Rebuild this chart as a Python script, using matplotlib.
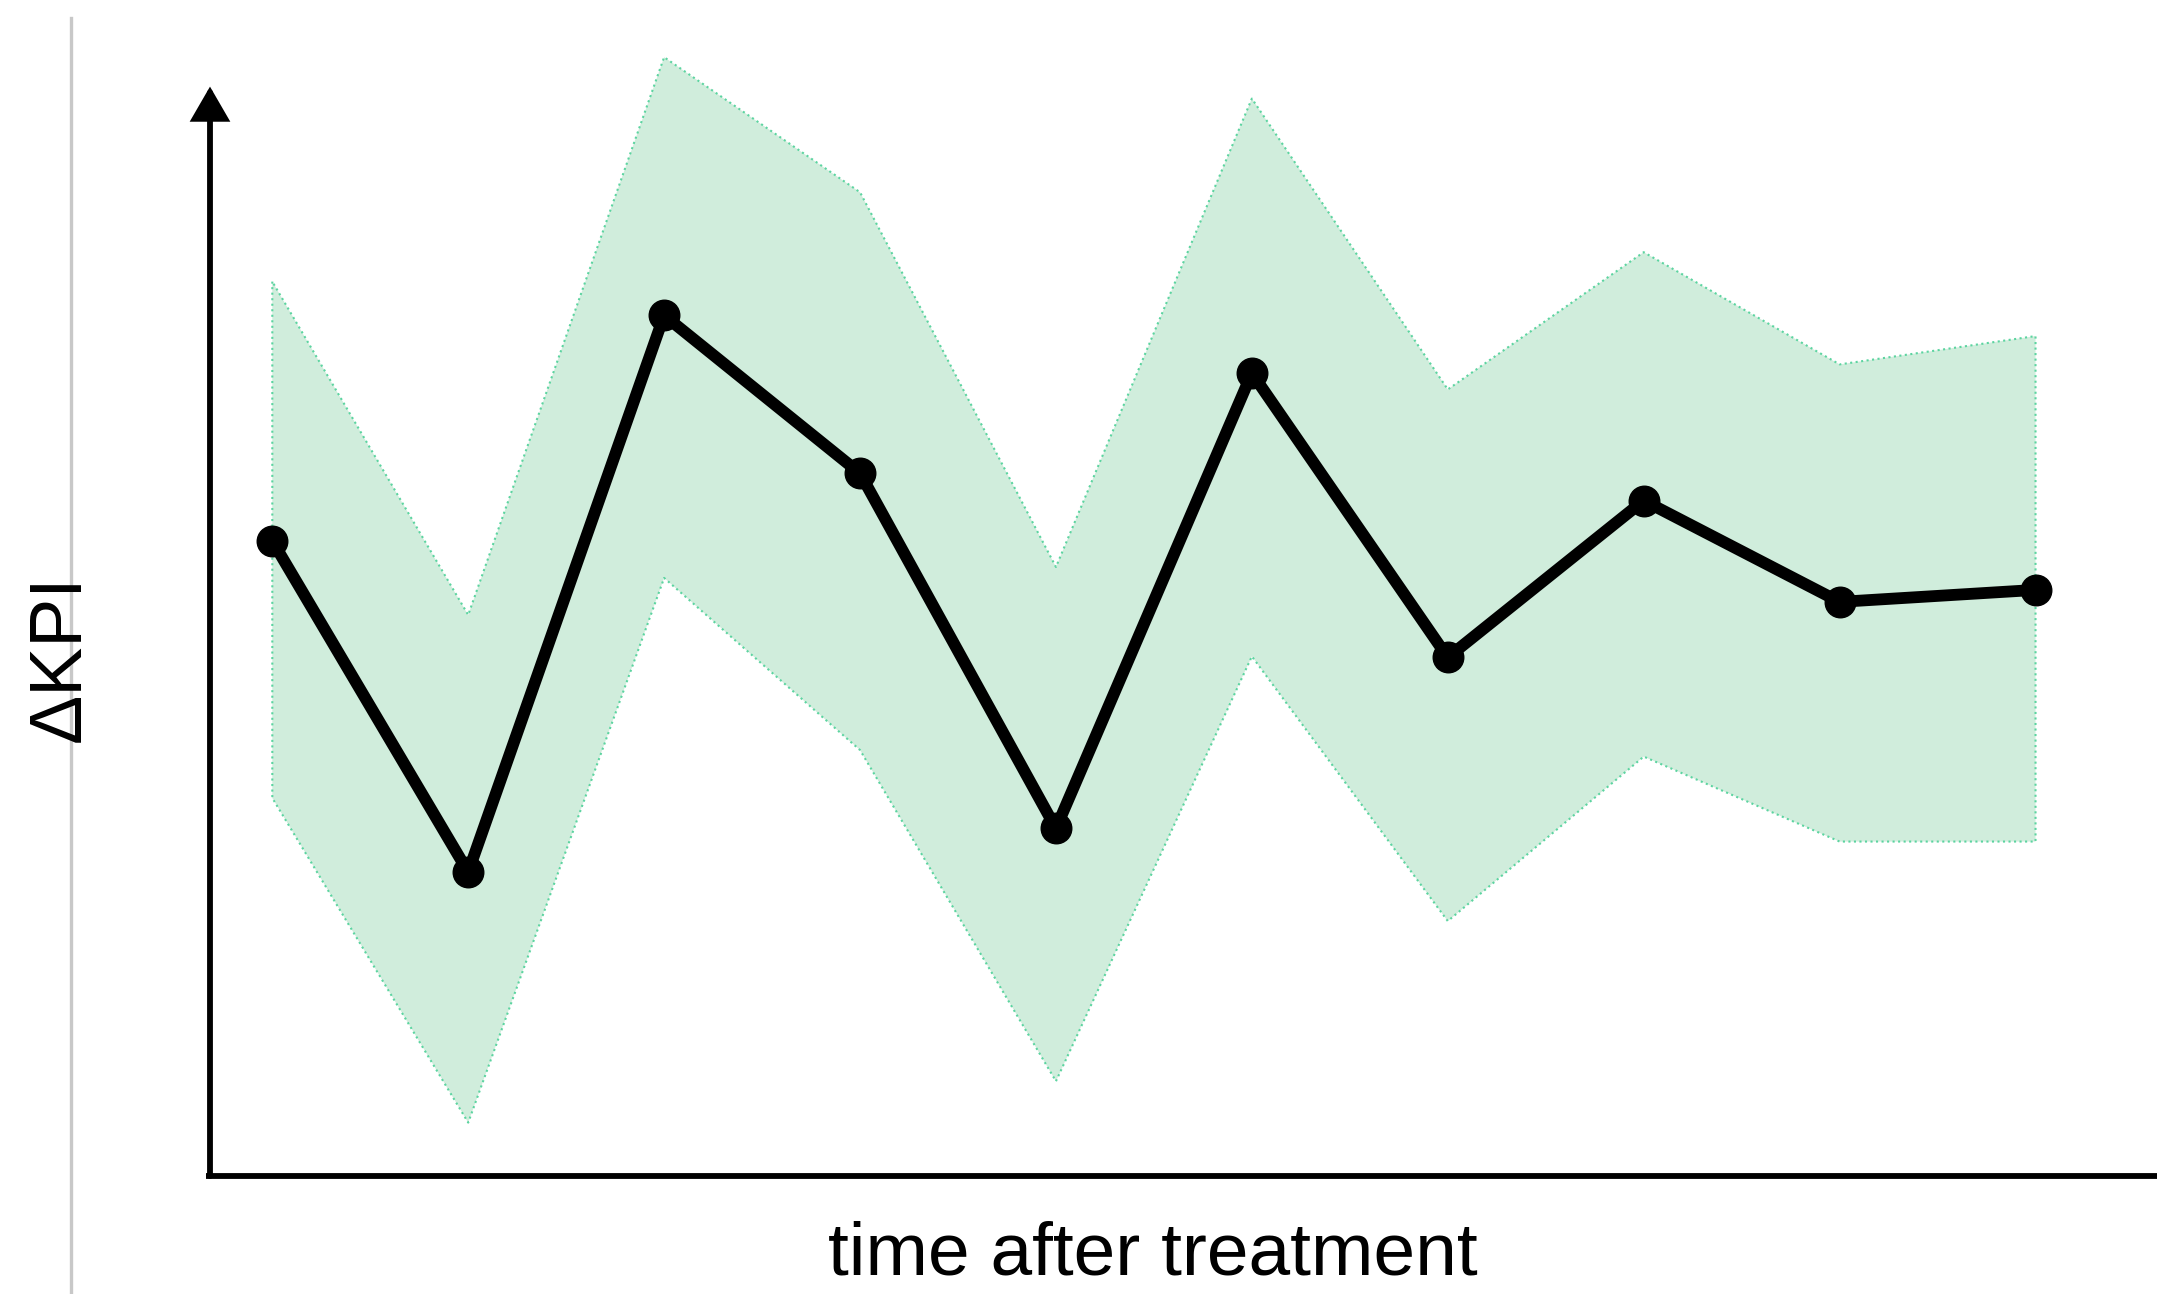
import matplotlib.pyplot as plt
from matplotlib.lines import Line2D

# time steps after treatment and the measured change in KPI (arbitrary units)
steps = list(range(10))
kpi_mean = [5.83, 2.79, 7.90, 6.45, 3.19, 7.37, 4.76, 6.20, 5.27, 5.38]
kpi_upper = [8.21, 5.15, 10.27, 9.03, 5.59, 9.89, 7.22, 8.48, 7.45, 7.71]
kpi_lower = [3.47, 0.49, 5.49, 3.91, 0.87, 4.77, 2.34, 3.85, 3.07, 3.07]

x_label = "time after treatment"
y_label = "\u0394KPI"

fig = plt.figure(figsize=(21.57, 12.94), dpi=100)
ax = fig.add_axes([210/2157, 118/1294, 1 - 210/2157, 1176/1294])
ax.set_xlim(-0.318, 9.62)
ax.set_ylim(0, 10.795)
ax.axis("off")

# confidence band with its dotted green edge
ax.fill_between(steps, kpi_lower, kpi_upper, facecolor="#d0eddc",
                edgecolor="#5cd4a0", linestyle=":", linewidth=1.5, zorder=1)
ax.plot(steps, kpi_mean, color="black", linewidth=8.5, marker="o",
        markersize=22, zorder=3)

# axes drawn by hand: y with an arrow head, x as a plain line
ax.annotate("", xy=(-0.318, 10.0), xytext=(-0.318, 0), xycoords="data",
            arrowprops=dict(arrowstyle="-|>,head_width=0.55,head_length=0.95",
                            mutation_scale=20, lw=4.2, color="black",
                            joinstyle="miter", shrinkA=0, shrinkB=0),
            annotation_clip=False)
ax.plot([-0.34, 9.62], [0, 0], color="black", linewidth=4.2,
        solid_capstyle="butt", clip_on=False)

# thin grey divider on the far left
fig.add_artist(Line2D([71/2157, 71/2157], [0, 1 - 18/1294],
                      color="#c8c8c8", linewidth=2.4))

fig.text(60/2157, 1 - 658/1294, y_label, rotation=90, ha="center",
         va="center", fontsize=53, family=["Liberation Sans", "DejaVu Sans"])
fig.text(1153/2157, 1 - 1255/1294, x_label, ha="center", va="center",
         fontsize=54, family=["Liberation Sans", "DejaVu Sans"])

fig.savefig("out.png", dpi=100, facecolor="white")
